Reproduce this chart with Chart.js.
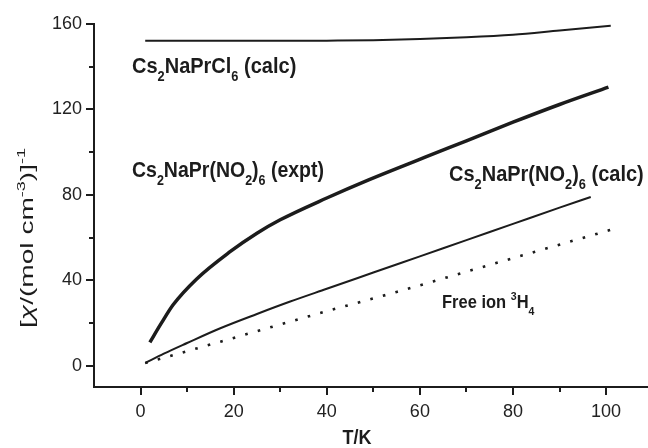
<!DOCTYPE html>
<html>
<head>
<meta charset="utf-8">
<script src="https://cdn.jsdelivr.net/npm/chart.js@4.4.1/dist/chart.umd.min.js"></script>
<style>
  html, body { margin: 0; padding: 0; background: #fff; }
  #wrap { width: 648px; height: 448px; overflow: hidden; }
</style>
</head>
<body>
<div id="wrap"><canvas id="chart" width="648" height="448"></canvas></div>
<script>
// temperatures (K) and inverse susceptibility [chi/(mol cm-3)]^-1
const tClCalc   = [1, 10, 20, 30, 40, 50, 60, 70, 80, 90, 101];
const invClCalc = [152.2, 152.1, 152.1, 152.1, 152.2, 152.4, 153, 153.8, 155, 157, 159.2];

const tNo2Expt   = [2, 4.5, 7, 12, 19, 25, 30, 40, 49, 61, 70, 80, 90, 100.5];
const invNo2Expt = [10.9, 20, 28.5, 40.5, 53, 62, 68.3, 78.5, 87, 97.5, 105.3, 114, 122.3, 130.4];

const tNo2Calc   = [1, 5, 10, 17, 25, 32, 40, 50, 60, 70, 80, 90, 96.7];
const invNo2Calc = [1.2, 5.6, 10.6, 17.4, 24.2, 29.9, 36, 43.6, 51.2, 58.8, 66.4, 74, 79];

const tFreeIon   = [1, 20, 40, 55, 70, 85, 101];
const invFreeIon = [1.2, 13, 25.5, 34.5, 44, 53.5, 63.6];

// axis ticks
const xMajorTicks = [0, 20, 40, 60, 80, 100];
const xMinorTicks = [10, 30, 50, 70, 90];
const yMajorTicks = [0, 40, 80, 120, 160];
const yMinorTicks = [20, 60, 100, 140];

const INK = '#1c1c1c';
const FONT = '"Liberation Sans", Arial, Helvetica, sans-serif';

function pts(xs, ys) {
    return xs.map((x, i) => ({ x: x, y: ys[i] }));
}

// draws text made of parts: [text, kind] with kind n | sub | sup | i
function drawRich(ctx, parts, x, y, size, weight, dryRun) {
    let cx = x;
    for (const [t, kind] of parts) {
        let fs = size, dy = 0, style = '';
        if (kind === 'sub') { fs = size * 0.64; dy = size * 0.36; }
        if (kind === 'sup') { fs = size * 0.64; dy = -size * 0.44; }
        if (kind === 'i') style = 'italic ';
        ctx.font = style + weight + ' ' + fs + 'px ' + FONT;
        if (!dryRun) ctx.fillText(t, cx, y + dy);
        cx += ctx.measureText(t).width;
    }
    return cx - x;
}

const labels = [
    { x: 132, y: 73, size: 20, parts: [['Cs', 'n'], ['2', 'sub'], ['NaPrCl', 'n'], ['6', 'sub'], [' (calc)', 'n']] },
    { x: 132, y: 177, size: 19.5, parts: [['Cs', 'n'], ['2', 'sub'], ['NaPr(NO', 'n'], ['2', 'sub'], [')', 'n'], ['6', 'sub'], [' (expt)', 'n']] },
    { x: 449, y: 181, size: 20, parts: [['Cs', 'n'], ['2', 'sub'], ['NaPr(NO', 'n'], ['2', 'sub'], [')', 'n'], ['6', 'sub'], [' (calc)', 'n']] },
    { x: 442, y: 308, size: 16.5, parts: [['Free ion ', 'n'], ['3', 'sup'], ['H', 'n'], ['4', 'sub']] }
];

const decorPlugin = {
    id: 'decor',
    afterDraw(chart) {
        const ctx = chart.ctx;
        const xs = chart.scales.x, ys = chart.scales.y;
        const area = chart.chartArea;
        ctx.save();

        // tick marks, pointing outward
        ctx.strokeStyle = INK;
        ctx.lineWidth = 2;
        ctx.beginPath();
        xMajorTicks.concat(xMinorTicks).forEach(v => {
            const px = Math.round(xs.getPixelForValue(v));
            const len = xMajorTicks.includes(v) ? 8 : 5;
            ctx.moveTo(px, area.bottom);
            ctx.lineTo(px, area.bottom + len);
        });
        yMajorTicks.concat(yMinorTicks).forEach(v => {
            const py = Math.round(ys.getPixelForValue(v));
            const len = yMajorTicks.includes(v) ? 8 : 5;
            ctx.moveTo(area.left, py);
            ctx.lineTo(area.left - len, py);
        });
        ctx.stroke();

        // curve labels
        ctx.fillStyle = INK;
        ctx.textBaseline = 'alphabetic';
        ctx.textAlign = 'left';
        labels.forEach(l => {
            ctx.save();
            ctx.translate(l.x, l.y);
            ctx.scale(1, 1.1);
            drawRich(ctx, l.parts, 0, 0, l.size, 'bold');
            ctx.restore();
        });

        // x title
        ctx.save();
        ctx.font = 'bold 18px ' + FONT;
        ctx.textAlign = 'center';
        ctx.translate(357, 444);
        ctx.scale(1, 1.1);
        ctx.fillText('T/K', 0, 0);
        ctx.restore();

        // y title, rotated
        const yParts = [['[', 'n'], ['\u03c7', 'i'], ['/(mol cm', 'n'], ['-3', 'sup'], [')]', 'n'], ['-1', 'sup']];
        ctx.save();
        ctx.translate(33, 238);
        ctx.rotate(-Math.PI / 2);
        const w = drawRich(ctx, yParts, 0, 0, 18, 'normal', true);
        const stretch = 180 / w;
        ctx.scale(stretch, 1);
        drawRich(ctx, yParts, -w / 2, 0, 18, 'normal');
        ctx.restore();

        ctx.restore();
    }
};

const lineDefaults = {
    pointRadius: 0,
    borderColor: INK,
    fill: false,
    cubicInterpolationMode: 'monotone'
};

new Chart(document.getElementById('chart'), {
    type: 'line',
    data: {
        datasets: [
            Object.assign({ label: 'Cs2NaPrCl6 (calc)', data: pts(tClCalc, invClCalc), borderWidth: 2 }, lineDefaults),
            Object.assign({ label: 'Cs2NaPr(NO2)6 (expt)', data: pts(tNo2Expt, invNo2Expt), borderWidth: 3.5 }, lineDefaults),
            Object.assign({ label: 'Cs2NaPr(NO2)6 (calc)', data: pts(tNo2Calc, invNo2Calc), borderWidth: 2 }, lineDefaults),
            Object.assign({ label: 'Free ion 3H4', data: pts(tFreeIon, invFreeIon), borderWidth: 2.6, borderDash: [2.6, 10.4] }, lineDefaults)
        ]
    },
    options: {
        responsive: false,
        animation: false,
        layout: { padding: { top: 24, right: 0, left: 0, bottom: 0 } },
        plugins: {
            legend: { display: false },
            tooltip: { enabled: false }
        },
        scales: {
            x: {
                type: 'linear',
                min: -10,
                max: 109,
                afterBuildTicks: s => { s.ticks = xMajorTicks.map(v => ({ value: v })); },
                afterFit: s => { s.height = 61; },
                grid: { display: false, drawTicks: false },
                border: { display: true, color: INK, width: 2 },
                ticks: { color: '#222', padding: 14, maxRotation: 0, autoSkip: false, font: { size: 18, family: FONT } }
            },
            y: {
                type: 'linear',
                min: -10,
                max: 160,
                afterBuildTicks: s => { s.ticks = yMajorTicks.map(v => ({ value: v })); },
                afterFit: s => { s.width = 94; },
                grid: { display: false, drawTicks: false },
                border: { display: true, color: INK, width: 2 },
                ticks: { color: '#222', padding: 12, font: { size: 18, family: FONT } }
            }
        }
    },
    plugins: [decorPlugin]
});
</script>
</body>
</html>
